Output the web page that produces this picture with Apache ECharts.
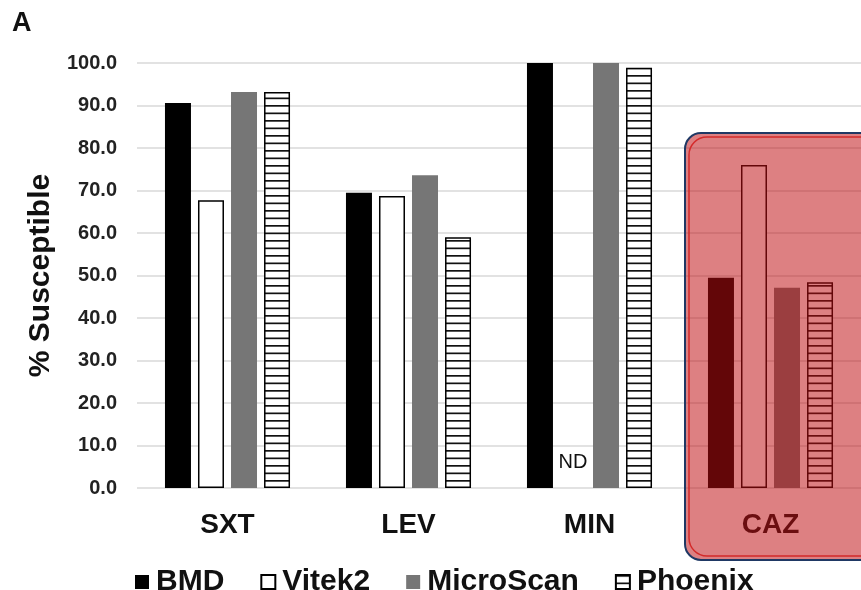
<!DOCTYPE html>
<html>
<head>
<meta charset="utf-8">
<script src="https://cdn.jsdelivr.net/npm/echarts@6/dist/echarts.min.js"></script>
<style>
  html, body { margin: 0; padding: 0; background: #fff; }
  #chart { width: 861px; height: 590px; }
</style>
</head>
<body>
<div id="chart"></div>
<script>
// data
const categories = ['SXT', 'LEV', 'MIN', 'CAZ'];
const bmd = [90.6, 69.5, 100.0, 49.5];
const vitek2 = [67.7, 68.7, 0, 76.0];   // MIN not determined (ND)
const vitek2NotDone = [false, false, true, false];
const microScan = [93.2, 73.6, 100.0, 47.1];
const phoenix = [93.2, 59.0, 98.9, 48.4];
const yTicks = [0, 10, 20, 30, 40, 50, 60, 70, 80, 90, 100];

const FONT = '"Liberation Sans", Arial, sans-serif';

// horizontal stripe fill for Phoenix
function stripes(color, bg) {
  const c = document.createElement('canvas');
  c.width = 4; c.height = 15;
  const ctx = c.getContext('2d');
  ctx.fillStyle = bg;
  ctx.fillRect(0, 0, 4, 15);
  ctx.fillStyle = color;
  ctx.fillRect(0, 0, 4, 1.7);
  ctx.fillRect(0, 7.5, 4, 1.7);
  return c;
}

const barW = 26;
const chart = echarts.init(document.getElementById('chart'));

const vitekData = vitek2.map((v, i) => vitek2NotDone[i]
  ? { value: v, itemStyle: { borderWidth: 0, color: 'transparent' },
      label: { show: true, formatter: 'ND', position: 'top', distance: 16,
      fontFamily: FONT, fontSize: 20, color: '#111' } }
  : v);

chart.setOption({
  animation: false,
  textStyle: { fontFamily: FONT },
  grid: { left: 137, right: 0, top: 63, bottom: 102 },
  xAxis: {
    type: 'category',
    data: categories,
    axisLine: { show: false },
    axisTick: { show: false },
    axisLabel: { fontFamily: FONT, fontSize: 28, fontWeight: 'bold', color: '#111', margin: 23 }
  },
  yAxis: {
    type: 'value',
    min: yTicks[0],
    max: yTicks[yTicks.length - 1],
    interval: 10,
    name: '% Susceptible',
    nameLocation: 'middle',
    nameGap: 80,
    nameTextStyle: { fontFamily: FONT, fontSize: 30, fontWeight: 'bold', color: '#111' },
    axisLine: { show: false },
    axisTick: { show: false },
    splitLine: { lineStyle: { color: '#d9d9d9', width: 1.5 } },
    axisLabel: {
      fontFamily: FONT, fontSize: 20, fontWeight: 'bold', color: '#222', margin: 20,
      formatter: v => v.toFixed(1)
    }
  },
  legend: {
    left: 130,
    top: 562,
    icon: 'rect',
    itemWidth: 14,
    itemHeight: 14,
    itemGap: 36,
    textStyle: { fontFamily: FONT, fontSize: 30, fontWeight: 'bold', color: '#111', padding: [0, 0, 0, 2] },
    data: ['BMD', 'Vitek2', 'MicroScan', 'Phoenix']
  },
  series: [
    {
      name: 'BMD', type: 'bar', data: bmd, barWidth: barW, barGap: '27%',
      itemStyle: { color: '#000' }
    },
    {
      name: 'Vitek2', type: 'bar', data: vitekData, barWidth: barW, barGap: '27%',
      itemStyle: { color: '#fff', borderColor: '#000', borderWidth: 1.5 }
    },
    {
      name: 'MicroScan', type: 'bar', data: microScan, barWidth: barW, barGap: '27%',
      itemStyle: { color: '#767676' }
    },
    {
      name: 'Phoenix', type: 'bar', data: phoenix, barWidth: barW, barGap: '27%',
      itemStyle: {
        color: { image: stripes('#111', '#fff'), repeat: 'repeat' },
        borderColor: '#000', borderWidth: 1.5
      }
    }
  ],
  graphic: [
    {
      type: 'text', left: 12, top: 10, z: 10,
      style: { text: 'A', font: 'bold 27px ' + FONT, fill: '#111' }
    },
    // highlight box over CAZ
    {
      type: 'rect', z: 100,
      shape: { x: 685, y: 133, width: 200, height: 427, r: 16 },
      style: { fill: 'rgba(190,12,16,0.52)', stroke: '#1f3864', lineWidth: 2 }
    },
    {
      type: 'rect', z: 101,
      shape: { x: 689, y: 137, width: 192, height: 419, r: 18 },
      style: { fill: 'none', stroke: '#d42a2a', lineWidth: 1.5 }
    }
  ]
});
</script>
</body>
</html>
